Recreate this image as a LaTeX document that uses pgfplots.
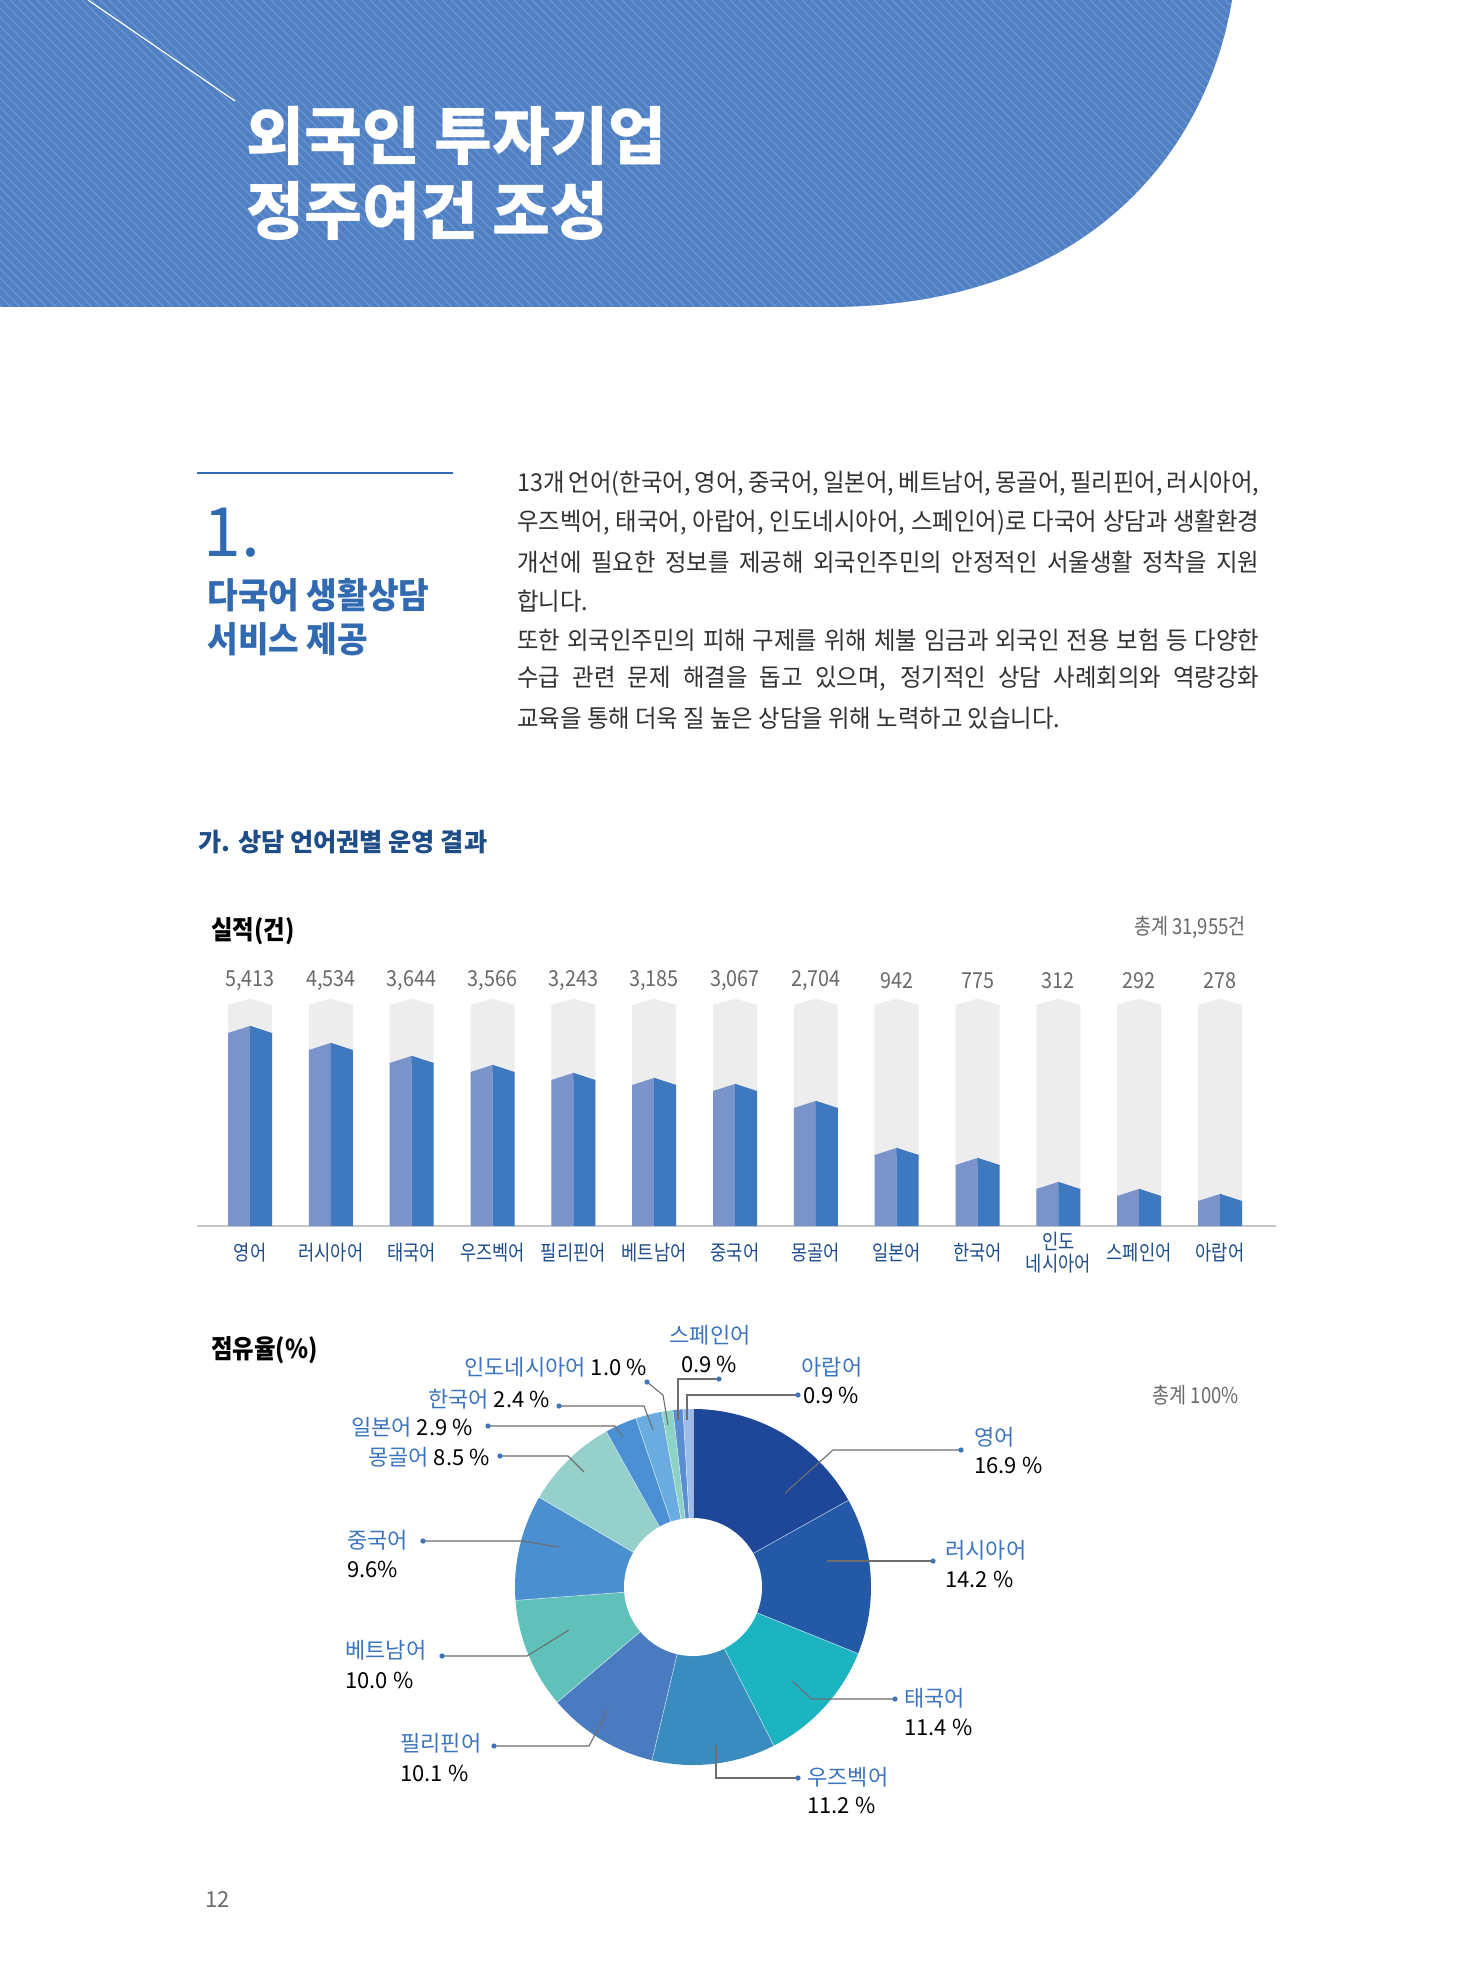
\documentclass[border=0pt]{standalone}
\usepackage{fontspec}
\setmainfont{Noto Sans CJK KR}
\newfontfamily\krc{Noto Sans CJK KR}[FakeStretch=0.84]
\newfontfamily\krm{Noto Sans CJK KR}[FakeStretch=0.9]
\newfontfamily\krn{Noto Sans CJK KR}[FakeStretch=0.94]
\newfontfamily\krb{Noto Sans CJK KR}[FakeStretch=0.95]
\usepackage{pgfplots}
\pgfplotsset{compat=1.18}
\usepackage{pgfplotstable}

\definecolor{band}{RGB}{80,128,196}
\definecolor{stripe}{RGB}{102,145,206}
\definecolor{hblue}{RGB}{50,106,178}
\definecolor{navy}{RGB}{30,76,134}
\definecolor{catblue}{RGB}{31,78,140}
\definecolor{lblue}{RGB}{60,117,190}
\definecolor{barL}{RGB}{123,147,203}
\definecolor{barD}{RGB}{62,120,191}
\definecolor{bgcol}{RGB}{237,237,237}
\definecolor{txt}{RGB}{50,50,50}
\definecolor{gtxt}{RGB}{105,105,105}
\definecolor{leader}{RGB}{110,110,110}
\definecolor{p1}{RGB}{31,71,153}
\definecolor{p2}{RGB}{36,89,168}
\definecolor{p3}{RGB}{29,180,194}
\definecolor{p4}{RGB}{58,140,191}
\definecolor{p5}{RGB}{74,123,192}
\definecolor{p6}{RGB}{95,193,185}
\definecolor{p7}{RGB}{74,143,207}
\definecolor{p8}{RGB}{149,208,202}
\definecolor{p9}{RGB}{74,144,210}
\definecolor{p10}{RGB}{106,171,224}
\definecolor{p11}{RGB}{141,211,197}
\definecolor{p12}{RGB}{90,142,210}
\definecolor{p13}{RGB}{157,188,235}

% roof marks for the bars
\pgfdeclareplotmark{roofL}{%
  \pgfpathmoveto{\pgfqpoint{-11pt}{-0.4pt}}%
  \pgfpathlineto{\pgfqpoint{-11pt}{0pt}}%
  \pgfpathlineto{\pgfqpoint{0.2pt}{3.6pt}}%
  \pgfpathlineto{\pgfqpoint{0.2pt}{-0.4pt}}%
  \pgfpathclose\pgfusepathqfill}
\pgfdeclareplotmark{roofR}{%
  \pgfpathmoveto{\pgfqpoint{0pt}{-0.4pt}}%
  \pgfpathlineto{\pgfqpoint{0pt}{3.6pt}}%
  \pgfpathlineto{\pgfqpoint{11pt}{0pt}}%
  \pgfpathlineto{\pgfqpoint{11pt}{-0.4pt}}%
  \pgfpathclose\pgfusepathqfill}
\pgfdeclareplotmark{roofG}{%
  \pgfpathmoveto{\pgfqpoint{-11pt}{-0.4pt}}%
  \pgfpathlineto{\pgfqpoint{-11pt}{0pt}}%
  \pgfpathlineto{\pgfqpoint{0pt}{3.2pt}}%
  \pgfpathlineto{\pgfqpoint{11pt}{0pt}}%
  \pgfpathlineto{\pgfqpoint{11pt}{-0.4pt}}%
  \pgfpathclose\pgfusepathqfill}

% i: position, drawn: bar height as drawn (px), bg: background column, lab: value
\pgfplotstableread{
i drawn bg lab
0 193 221 5,413
1 176 221 4,534
2 163 221 3,644
3 154 221 3,566
4 146 221 3,243
5 141 221 3,185
6 135 221 3,067
7 118 221 2,704
8 71 221 942
9 61 221 775
10 37 221 312
11 30 221 292
12 25 221 278
}\bardata

\begin{document}
\begin{tikzpicture}[x=0.5pt,y=-0.5pt]
\path[use as bounding box] (0,0) rectangle (1456,1968);
\fill[white] (0,0) rectangle (1456,1968);

% header band
\begin{scope}
\clip (0,0) -- (1232,0) .. controls (1205,160) and (1080,307) .. (828,307) -- (0,307) -- cycle;
\fill[band] (-10,-10) rectangle (1300,320);
\foreach \k in {-400,-391,...,1300} \draw[stripe, line width=0.8pt] (\k,-5) -- ++(330,330);
\end{scope}
\draw[white, line width=0.6pt] (88,0) -- (235,101);
\node[anchor=west, inner sep=0, white, font=\bfseries\fontsize{31.5}{36}\selectfont] at (246,136) {외국인 투자기업};
\node[anchor=west, inner sep=0, white, font=\bfseries\fontsize{31.5}{36}\selectfont] at (246,211) {정주여건 조성};

% left heading
\draw[hblue, line width=1.4pt] (197,473) -- (453,473);
\node[anchor=west, inner sep=0, text=hblue, font=\fontsize{34}{36}\selectfont] at (203,533) {1.};
\node[anchor=west, inner sep=0, text=hblue, font=\krn\bfseries\fontsize{17.7}{20}\selectfont] at (207,595) {다국어 생활상담};
\node[anchor=west, inner sep=0, text=hblue, font=\krn\bfseries\fontsize{17.7}{20}\selectfont] at (207,639) {서비스 제공};

% body text
\begin{scope}[every node/.style={anchor=west, inner sep=0, text=txt, font=\krb\fontsize{12.3}{14}\selectfont}]
\node at (517,484) {\makebox[371pt][s]{13개 언어(한국어, 영어, 중국어, 일본어, 베트남어, 몽골어, 필리핀어, 러시아어,}};
\node at (517,523) {\makebox[371pt][s]{우즈벡어, 태국어, 아랍어, 인도네시아어, 스페인어)로 다국어 상담과 생활환경}};
\node at (517,562) {\makebox[371pt][s]{개선에 필요한 정보를 제공해 외국인주민의 안정적인 서울생활 정착을 지원}};
\node at (517,601) {합니다.};
\node at (517,640) {\makebox[371pt][s]{또한 외국인주민의 피해 구제를 위해 체불 임금과 외국인 전용 보험 등 다양한}};
\node at (517,679) {\makebox[371pt][s]{수급 관련 문제 해결을 돕고 있으며, 정기적인 상담 사례회의와 역량강화}};
\node at (517,718) {교육을 통해 더욱 질 높은 상담을 위해 노력하고 있습니다.};
\end{scope}

% section heading
\node[anchor=west, inner sep=0, text=navy, font=\bfseries\fontsize{12.6}{15}\selectfont] at (198,842) {가. 상담 언어권별 운영 결과};
\node[anchor=west, inner sep=0, text=black, font=\krm\bfseries\fontsize{13}{15}\selectfont] at (211,931) {실적(건)};
\node[anchor=east, inner sep=0, text=gtxt, font=\krc\fontsize{11}{13}\selectfont] at (1246,927) {총계 31,955건};

% bar chart
\begin{axis}[
  at={(98.5pt,-613pt)}, anchor=south west,
  x=40.415pt, y=0.5pt,
  xmin=-0.656, xmax=12.69, ymin=0, ymax=250,
  axis x line*=bottom, axis y line=none,
  x axis line style={draw=black!22, line width=0.7pt, -},
  xtick={0,...,12}, ytick=\empty, major tick length=0pt,
  xticklabels={영어,러시아어,태국어,우즈벡어,필리핀어,베트남어,중국어,몽골어,일본어,한국어,{인도\\네시아어},스페인어,아랍어},
  xticklabel style={anchor=center, yshift=-13.5pt, align=center, text=catblue, font=\krc\fontsize{10.5}{11}\selectfont},
  clip=false,
]
\addplot[ybar, bar width=22pt, bar shift=0pt, fill=bgcol, draw=none,
  nodes near coords, point meta=explicit symbolic,
  nodes near coords style={anchor=center, yshift=12pt, text=gtxt, font=\krm\fontsize{11}{12}\selectfont}]
  table[x=i, y=bg, meta=lab]{\bardata};
\addplot[only marks, mark=roofG, mark options={fill=bgcol, draw=none}] table[x=i, y=bg]{\bardata};
\addplot[ybar, bar width=11pt, bar shift=-5.5pt, fill=barL, draw=none] table[x=i, y=drawn]{\bardata};
\addplot[ybar, bar width=11pt, bar shift=5.5pt, fill=barD, draw=none] table[x=i, y=drawn]{\bardata};
\addplot[only marks, mark=roofL, mark options={fill=barL, draw=none}] table[x=i, y=drawn]{\bardata};
\addplot[only marks, mark=roofR, mark options={fill=barD, draw=none}] table[x=i, y=drawn]{\bardata};
\end{axis}

% share section
\node[anchor=west, inner sep=0, text=black, font=\krm\bfseries\fontsize{13}{15}\selectfont] at (211,1350) {점유율(\%)};
\node[anchor=east, inner sep=0, text=gtxt, font=\krc\fontsize{11}{13}\selectfont] at (1239,1395) {총계 100\%};

\begin{axis}[
  at={(346.5pt,-793.5pt)}, anchor=center,
  x=0.5pt, y=0.5pt, y dir=reverse,
  xmin=493, xmax=893, ymin=1387, ymax=1787,
  axis lines=none, ticks=none, clip=false,
]
\xdef\acc{90}
\foreach \v/\c in {16.9/p1,14.2/p2,11.4/p3,11.2/p4,10.1/p5,10.0/p6,9.6/p7,8.5/p8,2.9/p9,2.4/p10,1.0/p11,0.9/p12,0.9/p13}{
  \pgfmathsetmacro\b{\acc-3.6*\v}
  \edef\temp{\noexpand\fill[\c] (axis cs:693,1587) -- ++(\acc:89pt) arc[start angle=\acc, end angle=\b, radius=89pt] -- cycle;}
  \temp
  \xdef\acc{\b}
}
\xdef\acc{90}
\foreach \v in {16.9,14.2,11.4,11.2,10.1,10.0,9.6,8.5,2.9,2.4,1.0,0.9,0.9}{
  \pgfmathsetmacro\b{\acc-3.6*\v}
  \edef\temp{\noexpand\draw[white, opacity=0.55, line width=0.35pt] (axis cs:693,1587) -- ++(\b:89pt);}
  \temp
  \xdef\acc{\b}
}
\fill[white] (axis cs:693,1587) circle[radius=34.5pt];
% leaders
\begin{scope}[leader, line width=0.55pt]
\draw (axis cs:961,1450) -- (axis cs:833,1450) -- (axis cs:785,1493);
\draw (axis cs:933,1561) -- (axis cs:827,1561);
\draw (axis cs:895,1699) -- (axis cs:812,1699) -- (axis cs:792,1681);
\draw (axis cs:798,1778) -- (axis cs:716,1778) -- (axis cs:716,1745);
\draw (axis cs:494,1746) -- (axis cs:589,1746) -- (axis cs:608,1710);
\draw (axis cs:442,1656) -- (axis cs:527,1656) -- (axis cs:569,1630);
\draw (axis cs:423,1541) -- (axis cs:522,1541) -- (axis cs:559,1547);
\draw (axis cs:500,1456) -- (axis cs:568,1456) -- (axis cs:584,1472);
\draw (axis cs:488,1426) -- (axis cs:615,1426) -- (axis cs:623,1437);
\draw (axis cs:559,1406) -- (axis cs:644,1406) -- (axis cs:653,1430);
\draw (axis cs:647,1382) -- (axis cs:663,1395) -- (axis cs:668,1425);
\draw (axis cs:719,1379) -- (axis cs:678,1379) -- (axis cs:678,1420);
\draw (axis cs:798,1395) -- (axis cs:687,1395) -- (axis cs:687,1420);
\end{scope}
\begin{scope}[lblue]
\fill (axis cs:961,1450) circle[radius=1.3pt];
\fill (axis cs:933,1561) circle[radius=1.3pt];
\fill (axis cs:895,1699) circle[radius=1.3pt];
\fill (axis cs:798,1778) circle[radius=1.3pt];
\fill (axis cs:494,1746) circle[radius=1.3pt];
\fill (axis cs:442,1656) circle[radius=1.3pt];
\fill (axis cs:423,1541) circle[radius=1.3pt];
\fill (axis cs:500,1456) circle[radius=1.3pt];
\fill (axis cs:488,1426) circle[radius=1.3pt];
\fill (axis cs:559,1406) circle[radius=1.3pt];
\fill (axis cs:647,1382) circle[radius=1.3pt];
\fill (axis cs:719,1379) circle[radius=1.3pt];
\fill (axis cs:798,1395) circle[radius=1.3pt];
\end{scope}
\end{axis}

% pie labels
\begin{scope}[every node/.style={inner sep=0, font=\fontsize{11}{12}\selectfont}]
\node[anchor=west, text=lblue] at (974,1437) {영어};
\node[anchor=west] at (974,1465) {16.9 \%};
\node[anchor=west, text=lblue] at (945,1550) {러시아어};
\node[anchor=west] at (945,1579) {14.2 \%};
\node[anchor=west, text=lblue] at (904,1698) {태국어};
\node[anchor=west] at (904,1727) {11.4 \%};
\node[anchor=west, text=lblue] at (807,1777) {우즈벡어};
\node[anchor=west] at (807,1805) {11.2 \%};
\node[anchor=west, text=lblue] at (400,1743) {필리핀어};
\node[anchor=west] at (400,1773) {10.1 \%};
\node[anchor=west, text=lblue] at (345,1650) {베트남어};
\node[anchor=west] at (345,1680) {10.0 \%};
\node[anchor=west, text=lblue] at (347,1540) {중국어};
\node[anchor=west] at (347,1569) {9.6\%};
\node[anchor=east] at (490,1457) {\textcolor{lblue}{몽골어} 8.5 \%};
\node[anchor=east] at (473,1427) {\textcolor{lblue}{일본어} 2.9 \%};
\node[anchor=east] at (550,1399) {\textcolor{lblue}{한국어} 2.4 \%};
\node[anchor=east] at (647,1367) {\textcolor{lblue}{인도네시아어} 1.0 \%};
\node[text=lblue] at (710,1335) {스페인어};
\node at (709,1364) {0.9 \%};
\node[text=lblue] at (832,1367) {아랍어};
\node[anchor=west] at (803,1395) {0.9 \%};
\end{scope}

\node[anchor=west, inner sep=0, text=gtxt, font=\fontsize{11}{13}\selectfont] at (205,1899) {12};
\end{tikzpicture}
\end{document}
